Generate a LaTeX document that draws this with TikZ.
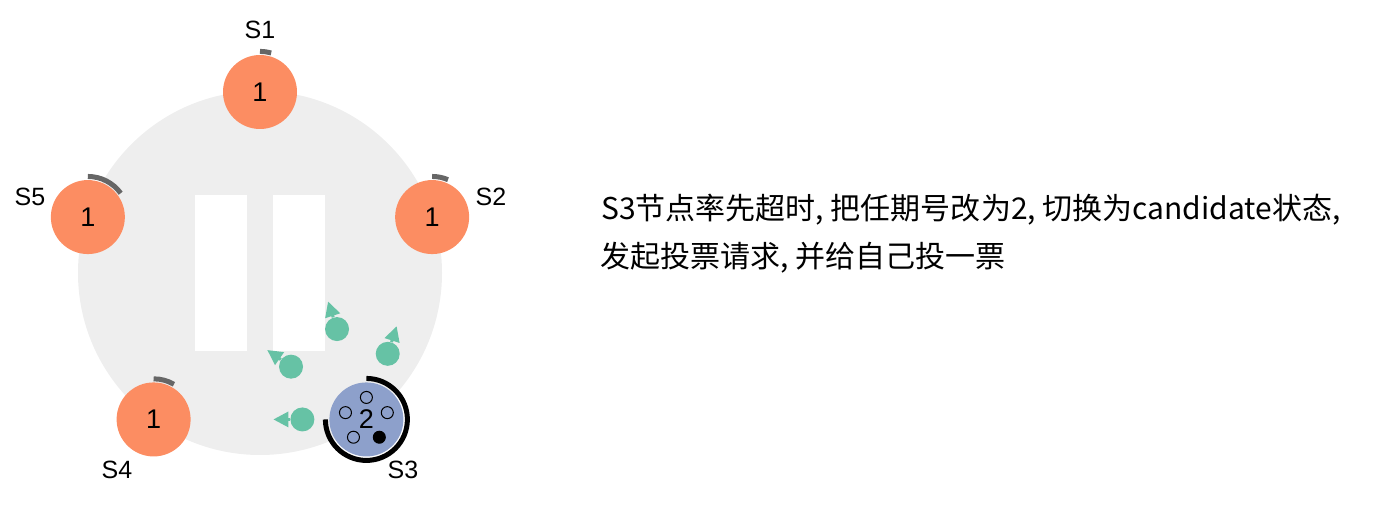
\documentclass[tikz,border=0pt]{standalone}
\usepackage{fontspec}
\setmainfont{Liberation Sans}
\newfontfamily\cjk{Noto Sans CJK SC}
\usetikzlibrary{arrows.meta,positioning,calc}
\usepackage{xcolor}
\definecolor{srvorange}{HTML}{FC8D62}
\definecolor{srvblue}{HTML}{8DA0CB}
\definecolor{msggreen}{HTML}{66C2A5}
\definecolor{ringgrey}{HTML}{EEEEEE}
\definecolor{timergrey}{HTML}{666666}

\begin{document}
\begin{tikzpicture}[x=0.5pt,y=0.5pt,
		server/.style={circle,minimum size=37pt,inner sep=0pt,font=\fontsize{13.5}{16}\selectfont},
		srvlabel/.style={inner sep=0pt,font=\fontsize{12.5}{15}\selectfont},
		timer/.style={line width=2.5pt,timergrey},
		vote/.style={circle,draw,line width=0.5pt,minimum size=6pt,inner sep=0pt},
		msg/.style={circle,fill=msggreen,minimum size=12pt,inner sep=0pt},
		msgtip/.style={msggreen,line width=1.5pt,-{Triangle[length=7.5pt,width=7.5pt]}}]
	\useasboundingbox (0,0) rectangle (1375,509);
	% ring and pause bars
	\coordinate (ctr) at (260,236);
	\fill[ringgrey] (ctr) circle (182);
	\fill[white] (195,158) rectangle (247,314);
	\fill[white] (273,158) rectangle (325,314);
	
	% servers
	\node[server,fill=srvorange] (s1) at ($(ctr)+(90:181)$) {1};
	\node[server,fill=srvorange] (s2) at ($(ctr)+(18:181)$) {1};
	\node[server,fill=srvblue] (s3) at ($(ctr)+(-54:181)$) {2};
	\node[server,fill=srvorange] (s4) at ($(ctr)+(234:181)$) {1};
	\node[server,fill=srvorange] (s5) at ($(ctr)+(162:181)$) {1};
	
	\node[srvlabel] (l1) at (260,479) {S1};
	\node[srvlabel] (l2) at (491,312) {S2};
	\node[srvlabel] (l3) at (403,39) {S3};
	\node[srvlabel] (l4) at (117,39) {S4};
	\node[srvlabel] (l5) at (30,312) {S5};
	
	% election timers
	\draw[timer] ([shift={(90:20.3pt)}]s1.center) arc[start angle=90,end angle=74,radius=20.3pt];
	\draw[timer] ([shift={(90:20.3pt)}]s2.center) arc[start angle=90,end angle=67,radius=20.3pt];
	\draw[timer] ([shift={(90:20.3pt)}]s4.center) arc[start angle=90,end angle=60,radius=20.3pt];
	\draw[timer] ([shift={(90:20.3pt)}]s5.center) arc[start angle=90,end angle=36,radius=20.3pt];
	\draw[line width=2.5pt,black] ([shift={(90:20.5pt)}]s3.center) arc[start angle=90,end angle=-180,radius=20.5pt];
	
	% votes held by S3
	\foreach \a/\f [count=\i] in {90/none,18/none,-54/black,234/none,162/none}
		\node[vote,fill=\f] (v\i) at ($(s3)+(\a:22)$) {};
	
	% vote requests
	\node[msg] (m1) at ($(s3)+(108:95)$) {};
	\node[msg] (m2) at ($(s3)+(72:69)$) {};
	\node[msg] (m4) at ($(s3)+(180:64)$) {};
	\node[msg] (m5) at ($(s3)+(145:92)$) {};
	\draw[msgtip] (m1) -- ++(108:29);
	\draw[msgtip] (m2) -- ++(72:29);
	\draw[msgtip] (m4) -- ++(180:29);
	\draw[msgtip] (m5) -- ++(145:29);
	
	% caption
	\node[anchor=base west,inner sep=0pt,font=\cjk\fontsize{15}{18}\selectfont] (cap1) at (601,289) {S3节点率先超时, 把任期号改为2, 切换为candidate状态,};
	\node[anchor=base west,inner sep=0pt,font=\cjk\fontsize{15}{18}\selectfont] (cap2) at (600,241) {发起投票请求, 并给自己投一票};
\end{tikzpicture}
\end{document}
